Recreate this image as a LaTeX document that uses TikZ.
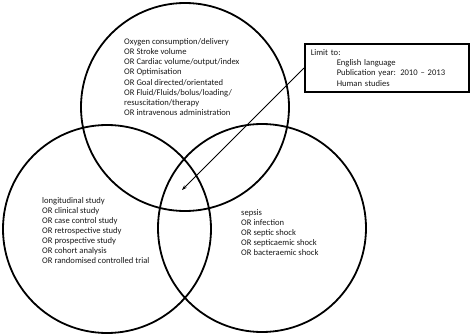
\documentclass[tikz,border=0pt]{standalone}
\usepackage{fontspec}
\setmainfont{Carlito}
\usetikzlibrary{arrows.meta}

\begin{document}
\begin{tikzpicture}[
  x=1pt, y=-1pt,
  every node/.style={font=\fontsize{8.6}{10.1}\selectfont, align=left},
  ring/.style={draw=black, circle, line width=1.8pt, minimum size=208pt, inner sep=0pt},
  terms/.style={anchor=north west, inner sep=0pt, text=black!90},
  limitbox/.style={draw=black, line width=1.5pt, anchor=west, text width=152pt, inner xsep=6pt, minimum height=48pt, text=black!90},
  arr/.style={-{Stealth[length=5pt, width=3.5pt]}, line width=0.9pt}
]
\useasboundingbox (0,0) rectangle (472,335);
\node[ring] (intervention) at (185,107) {};
\node[ring] (design) at (107,229) {};
\node[ring] (population) at (262,228) {};

\node[terms] (interventionterms) at (124,38.5) {Oxygen consumption/delivery\\OR Stroke volume\\OR Cardiac volume/output/index\\OR Optimisation\\OR Goal directed/orientated\\OR Fluid/Fluids/bolus/loading/\\resuscitation/therapy\\OR intravenous administration};
\node[terms] (designterms) at (42,197) {longitudinal study\\OR clinical study\\OR case control study\\OR retrospective study\\OR prospective study\\OR cohort analysis\\OR randomised controlled trial};
\node[terms] (populationterms) at (241,209) {sepsis\\OR infection\\OR septic shock\\OR septicaemic shock\\OR bacteraemic shock};

\node[limitbox] (limit) at (304,68) {Limit to:\\\hspace*{26pt}English language\\\hspace*{26pt}Publication year: 2010 -- 2013\\\hspace*{26pt}Human studies};
\coordinate (hit) at (182,190);
\draw[arr] (limit.west) -- (hit);
\end{tikzpicture}
\end{document}
